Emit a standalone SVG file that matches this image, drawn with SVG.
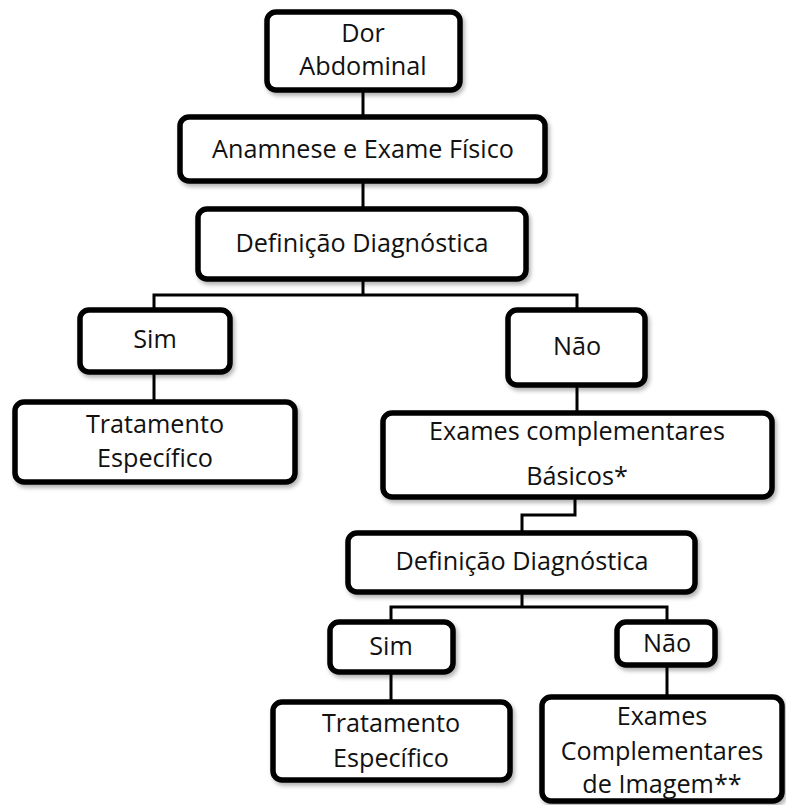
<svg xmlns="http://www.w3.org/2000/svg" width="786" height="805" viewBox="0 0 786 805">
<defs>
<filter id="sh" x="-10%" y="-10%" width="130%" height="140%">
<feDropShadow dx="2" dy="3" stdDeviation="2" flood-color="#000" flood-opacity="0.3"/>
</filter>
</defs>
<style>
.box{fill:#fff;stroke:#000;stroke-width:5.5;filter:url(#sh)}
.t{font-family:"Open Sans","Liberation Sans",sans-serif;font-size:25.2px;fill:#111;text-anchor:middle}
.c{fill:none;stroke:#000;stroke-width:3}
</style>
<rect width="786" height="805" fill="#fff"/>
<g id="connectors">
<path class="c" d="M363 90V117M363 181V209M363 279V295M154 310V295H577V310M154 372V402M577 385V413M575 497V515H522V533M522 592V607M391 622V607H667V622M391 672V702M667 665V697"/>
</g>
<g id="n1"><rect class="box" x="267" y="12" width="193" height="78" rx="9"/><text class="t" x="363" y="42">Dor</text><text class="t" x="363" y="75">Abdominal</text></g>
<g id="n2"><rect class="box" x="180" y="117" width="365" height="64" rx="9"/><text class="t" x="363" y="158">Anamnese e Exame Físico</text></g>
<g id="n3"><rect class="box" x="198" y="209" width="328" height="70" rx="9"/><text class="t" x="362" y="252">Definição Diagnóstica</text></g>
<g id="n4"><rect class="box" x="80" y="310" width="150" height="62" rx="9"/><text class="t" x="155" y="348">Sim</text></g>
<g id="n5"><rect class="box" x="15" y="402" width="280" height="80" rx="9"/><text class="t" x="155" y="433">Tratamento</text><text class="t" x="155" y="467">Específico</text></g>
<g id="n6"><rect class="box" x="508" y="310" width="137" height="75" rx="9"/><text class="t" x="577" y="355">Não</text></g>
<g id="n7"><rect class="box" x="383" y="413" width="389" height="84" rx="9"/><text class="t" x="577" y="440">Exames complementares</text><text class="t" x="577" y="485">Básicos*</text></g>
<g id="n8"><rect class="box" x="348" y="533" width="347" height="59" rx="9"/><text class="t" x="522" y="570">Definição Diagnóstica</text></g>
<g id="n9"><rect class="box" x="330" y="622" width="123" height="50" rx="9"/><text class="t" x="391" y="655">Sim</text></g>
<g id="n10"><rect class="box" x="617" y="622" width="98" height="43" rx="9"/><text class="t" x="667" y="652">Não</text></g>
<g id="n11"><rect class="box" x="273" y="702" width="237" height="78" rx="9"/><text class="t" x="391" y="732">Tratamento</text><text class="t" x="391" y="767">Específico</text></g>
<g id="n12"><rect class="box" x="542" y="697" width="240" height="104" rx="9"/><text class="t" x="662" y="725">Exames</text><text class="t" x="662" y="760">Complementares</text><text class="t" x="662" y="793">de Imagem**</text></g>
</svg>
